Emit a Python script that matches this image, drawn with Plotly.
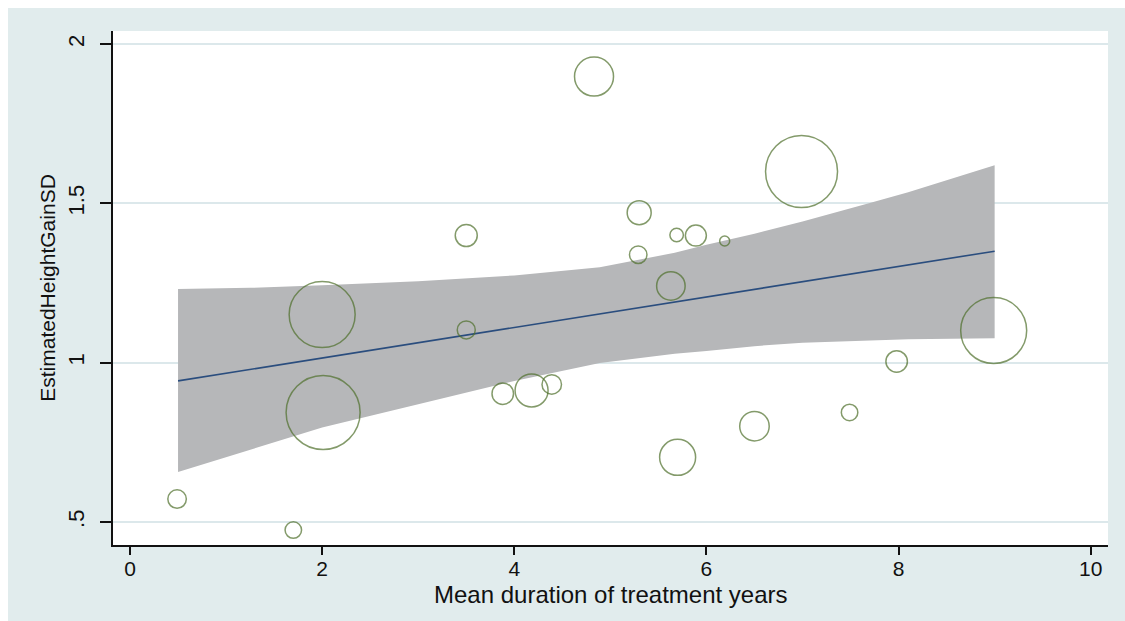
import plotly.graph_objects as go

# ---- data ----
study_x = [0.49, 1.70, 2.00, 2.01, 3.50, 3.50, 3.88, 4.18, 4.39, 4.83, 5.30,
           5.29, 5.63, 5.69, 5.89, 6.19, 5.70, 6.50, 6.99, 7.49, 7.98, 8.99]
study_y = [0.572, 0.475, 1.151, 0.844, 1.399, 1.103, 0.903, 0.913, 0.932, 1.898, 1.471,
           1.339, 1.241, 1.401, 1.399, 1.382, 0.703, 0.801, 1.600, 0.844, 1.004, 1.101]
study_weight = [18.5, 16.5, 66, 74, 22, 18, 21.5, 33, 19.5, 39, 24,
                17.5, 28.5, 13.5, 21, 10, 36, 29.5, 72, 16.5, 21.5, 66]

fit_x = [0.5, 9.0]
fit_y = [0.943, 1.350]

band_x = [0.5, 1.25, 2.0, 3.0, 4.0, 4.89, 5.67, 6.0, 6.5, 7.0, 7.7, 8.1, 9.0]
band_upper = [1.231, 1.235, 1.243, 1.256, 1.274, 1.300, 1.345, 1.370, 1.405, 1.443, 1.501, 1.535, 1.620]
band_lower = [0.657, 0.726, 0.797, 0.870, 0.943, 0.999, 1.028, 1.037, 1.052, 1.063, 1.070, 1.074, 1.077]

x_ticks = [0, 2, 4, 6, 8, 10]
y_ticks = [0.5, 1, 1.5, 2]
y_tick_text = [".5", "1", "1.5", "2"]

x_title = "Mean duration of treatment years"
y_title = "EstimatedHeightGainSD"

# ---- styling ----
BG = "#e1eced"
GRID = "#dce8eb"
BAND = "#b6b7b9"
LINE = "#2a4d7e"
MARK = "#4f6f2b"
FONT = "Liberation Sans, Arial, sans-serif"

fig = go.Figure()
fig.add_trace(go.Scatter(x=band_x, y=band_lower, mode="lines",
                         line=dict(width=0, color=BAND), hoverinfo="skip", showlegend=False))
fig.add_trace(go.Scatter(x=band_x, y=band_upper, mode="lines", fill="tonexty",
                         fillcolor=BAND, line=dict(width=0, color=BAND),
                         hoverinfo="skip", showlegend=False))
fig.add_trace(go.Scatter(x=fit_x, y=fit_y, mode="lines",
                         line=dict(color=LINE, width=1.6), showlegend=False))
fig.add_trace(go.Scatter(x=study_x, y=study_y, mode="markers",
                         marker=dict(symbol="circle-open", size=study_weight,
                                     color=MARK, line=dict(color=MARK, width=1.5)),
                         showlegend=False))

# the figure sits at (8, 8) on the page, leaving a thin white strip top/left
W, H = 1117, 613
L, R, T, B = 105, 17, 23, 76
ph = H - T - B

fig.update_layout(
    width=W, height=H,
    margin=dict(l=L, r=R, t=T, b=B),
    paper_bgcolor=BG,
    plot_bgcolor="white",
    font=dict(family=FONT, color="#111111", size=22),
    xaxis=dict(
        range=[-0.177, 10.18], tickvals=x_ticks, ticks="outside", ticklen=8,
        tickwidth=1.5, tickcolor="#111111", showline=True, linecolor="#111111",
        linewidth=1.6, showgrid=False, zeroline=False, automargin=False,
        ticklabelstandoff=-4,
        tickfont=dict(size=21),
    ),
    yaxis=dict(
        range=[0.428, 2.041], tickvals=y_ticks, ticktext=y_tick_text,
        tickangle=-90, ticks="outside", ticklen=11, tickwidth=1.5,
        tickcolor="#111111", showline=True, linecolor="#111111", linewidth=1.6,
        showgrid=True, gridcolor=GRID, gridwidth=1.5, zeroline=False,
        automargin=False, ticklabelstandoff=7,
        tickfont=dict(size=22),
        title=dict(text=y_title, font=dict(size=21), standoff=3),
    ),
    annotations=[
        dict(text=x_title, xref="paper", yref="paper", x=0.5, y=-49 / ph,
             xanchor="center", yanchor="middle", showarrow=False,
             font=dict(size=24, color="#111111")),
    ],
)

fig.write_html(
    "out.html",
    post_script="document.body.style.margin='8px 0 0 8px';"
                "document.body.style.overflow='hidden';",
)
